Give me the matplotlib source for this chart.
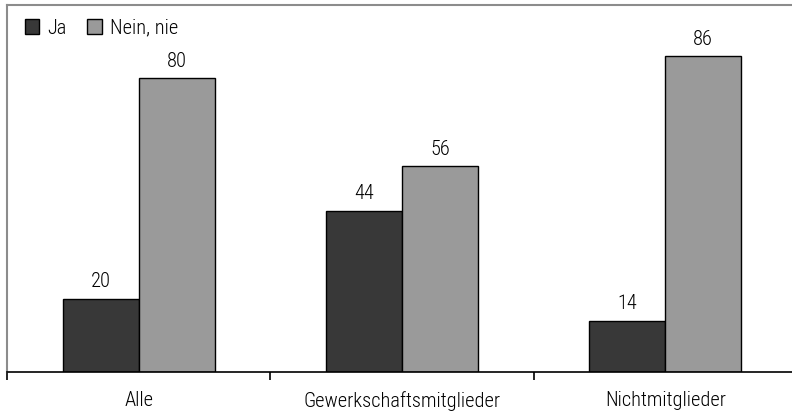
import matplotlib
matplotlib.use("Agg")
import matplotlib.pyplot as plt
import numpy as np

plt.rcParams['font.family'] = ['Roboto Condensed', 'DejaVu Sans']
plt.rcParams['font.weight'] = 'light'

categories = ["Alle", "Gewerkschaftsmitglieder", "Nichtmitglieder"]
series_names = ["Ja", "Nein, nie"]
ja = [20, 44, 14]
nein = [80, 56, 86]

dark = "#383838"
light = "#9a9a9a"
fs = 14.7

fig = plt.figure(figsize=(7.92, 4.12), dpi=100)
ax = fig.add_axes([7 / 792, 40 / 412, 790 / 792, 367 / 412])

x = np.arange(len(categories))
w = 0.288
b1 = ax.bar(x - w / 2, ja, w, color=dark, edgecolor="black", linewidth=1.0, label=series_names[0])
b2 = ax.bar(x + w / 2, nein, w, color=light, edgecolor="black", linewidth=1.0, label=series_names[1])

for bars, vals in ((b1, ja), (b2, nein)):
    for rect, v in zip(bars, vals):
        ax.annotate(f"{v}", (rect.get_x() + rect.get_width() / 2, v),
                    xytext=(0, 5.5), textcoords="offset points",
                    ha="center", va="bottom", fontsize=fs)

ax.set_xlim(-0.5, len(categories) - 0.5)
ax.set_ylim(0, 100)
ax.set_yticks([])
ax.set_xticks(x)
ax.set_xticklabels(categories, fontsize=fs)
ax.tick_params(axis="x", which="major", length=0, pad=14)
ax.set_xticks(np.arange(-0.5, len(categories)), minor=True)
ax.tick_params(axis="x", which="minor", length=6, width=1.2, color="black", direction="out")

for s in ("top", "left"):
    ax.spines[s].set_color("#8c8c8c")
    ax.spines[s].set_linewidth(1.5)
ax.spines["right"].set_visible(False)
ax.spines["bottom"].set_color("black")
ax.spines["bottom"].set_linewidth(1.2)

leg = ax.legend(loc="upper left", bbox_to_anchor=(0.012, 0.985), ncol=2, frameon=False,
                fontsize=fs, handlelength=0.72, handleheight=0.72, handletextpad=0.4,
                columnspacing=1.0, borderaxespad=0)
for h in leg.legend_handles:
    h.set_edgecolor("black")
    h.set_linewidth(1.0)

fig.savefig("out.png", dpi=100)
